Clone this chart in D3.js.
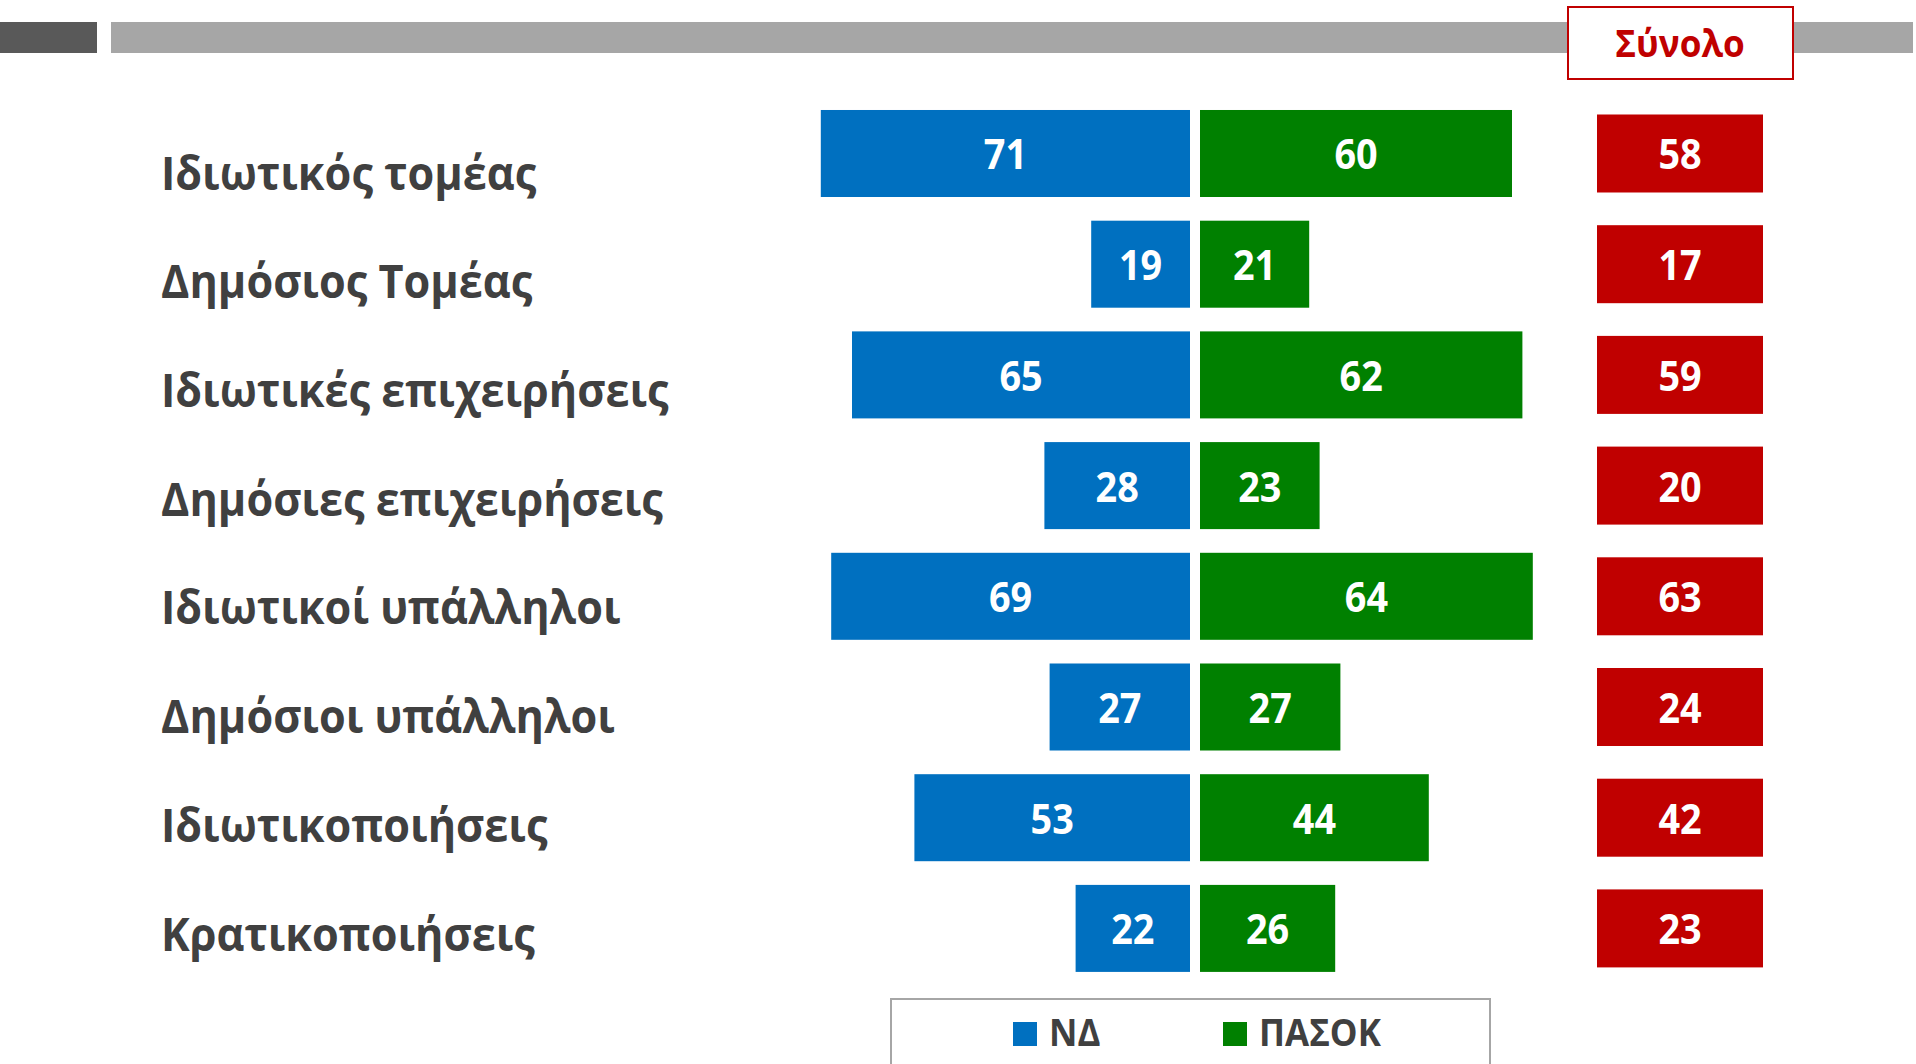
<!DOCTYPE html>
<html>
<head>
<meta charset="utf-8">
<script src="https://cdn.jsdelivr.net/npm/d3@7"></script>
<style>
  html, body { margin: 0; padding: 0; background: #fff; }
  svg { display: block; font-family: "Open Sans", "Noto Sans", sans-serif; font-weight: 700; }
</style>
</head>
<body>
<div id="chart"></div>
<script>
// data
const categories = [
  'Ιδιωτικός τομέας',
  'Δημόσιος Τομέας',
  'Ιδιωτικές επιχειρήσεις',
  'Δημόσιες επιχειρήσεις',
  'Ιδιωτικοί υπάλληλοι',
  'Δημόσιοι υπάλληλοι',
  'Ιδιωτικοποιήσεις',
  'Κρατικοποιήσεις',
];
const ndValues = [71, 19, 65, 28, 69, 27, 53, 22];
const pasokValues = [60, 21, 62, 23, 64, 27, 44, 26];
const totalValues = [58, 17, 59, 20, 63, 24, 42, 23];
const seriesNames = ['ΝΔ', 'ΠΑΣΟΚ'];
const totalTitle = 'Σύνολο';

const width = 1916, height = 1064;
const colors = { nd: '#0070C0', pasok: '#008000', total: '#C00000', text: '#404040' };
// narrow the wide fallback font a little
const squeeze = 0.92;
const squeezeValue = 0.9;

const svg = d3.select('#chart').append('svg')
  .attr('width', width)
  .attr('height', height);

// header bars
svg.append('rect').attr('x', 0).attr('y', 22).attr('width', 97).attr('height', 31).attr('fill', '#595959');
svg.append('rect').attr('x', 111).attr('y', 22).attr('width', 1802).attr('height', 31).attr('fill', '#A6A6A6');

// "Σύνολο" box
svg.append('rect').attr('x', 1568).attr('y', 7).attr('width', 225).attr('height', 72)
  .attr('fill', '#fff').attr('stroke', colors.total).attr('stroke-width', 2);
svg.append('text')
  .attr('transform', `translate(1680,57) scale(0.95,1)`)
  .attr('text-anchor', 'middle')
  .attr('font-size', 37)
  .attr('fill', colors.total)
  .text(totalTitle);

// scales
const y = d3.scaleBand().domain(categories).range([86.3, 995.6]).paddingInner(0.214).paddingOuter(0.214);
const x = d3.scaleLinear().domain([0, 100]).range([0, 520]);
const centerLeft = 1190, centerRight = 1200;
const yLabel = d3.scalePoint().domain(categories).range([173, 934]);

// row labels
svg.append('g').selectAll('text')
  .data(categories)
  .join('text')
  .attr('transform', (d) => `translate(161,${yLabel(d) + 16.5}) scale(${squeeze},1)`)
  .attr('font-size', 47)
  .attr('fill', colors.text)
  .text((d) => d);

const rows = categories.map((c, i) => ({ c, nd: ndValues[i], pasok: pasokValues[i], total: totalValues[i] }));

const barG = svg.append('g');
// ND bars grow to the left of the centre gap
barG.selectAll('rect.nd')
  .data(rows)
  .join('rect')
  .attr('class', 'nd')
  .attr('x', (d) => centerLeft - x(d.nd))
  .attr('y', (d) => y(d.c))
  .attr('width', (d) => x(d.nd))
  .attr('height', y.bandwidth())
  .attr('fill', colors.nd);

barG.selectAll('rect.pasok')
  .data(rows)
  .join('rect')
  .attr('class', 'pasok')
  .attr('x', centerRight)
  .attr('y', (d) => y(d.c))
  .attr('width', (d) => x(d.pasok))
  .attr('height', y.bandwidth())
  .attr('fill', colors.pasok);

const valueText = (sel, cx, key) => sel
  .attr('transform', (d) => `translate(${cx(d)},${y(d.c) + y.bandwidth() / 2 + 16}) scale(${squeezeValue},1)`)
  .attr('text-anchor', 'middle')
  .attr('font-size', 42)
  .attr('fill', '#fff')
  .text((d) => d[key]);

barG.selectAll('text.nd')
  .data(rows)
  .join('text')
  .attr('class', 'nd')
  .call(valueText, (d) => centerLeft - x(d.nd) / 2, 'nd');

barG.selectAll('text.pasok')
  .data(rows)
  .join('text')
  .attr('class', 'pasok')
  .call(valueText, (d) => centerRight + x(d.pasok) / 2, 'pasok');

// total boxes
const boxH = 78;
barG.selectAll('rect.total')
  .data(rows)
  .join('rect')
  .attr('class', 'total')
  .attr('x', 1597)
  .attr('y', (d) => y(d.c) + y.bandwidth() / 2 - boxH / 2)
  .attr('width', 166)
  .attr('height', boxH)
  .attr('fill', colors.total);

barG.selectAll('text.total')
  .data(rows)
  .join('text')
  .attr('class', 'total')
  .call(valueText, () => 1680, 'total');

// legend
svg.append('rect').attr('x', 891).attr('y', 999).attr('width', 599).attr('height', 80)
  .attr('fill', '#fff').attr('stroke', '#A6A6A6').attr('stroke-width', 2);
const legendX = [1013, 1223];
const legendColors = [colors.nd, colors.pasok];
const leg = svg.append('g').selectAll('g')
  .data(seriesNames)
  .join('g')
  .attr('transform', (d, i) => `translate(${legendX[i]},1022)`);
leg.append('rect').attr('width', 24).attr('height', 24).attr('fill', (d, i) => legendColors[i]);
leg.append('text')
  .attr('transform', `translate(36,24) scale(${squeeze},1)`)
  .attr('font-size', 38)
  .attr('fill', colors.text)
  .text((d) => d);
</script>
</body>
</html>
